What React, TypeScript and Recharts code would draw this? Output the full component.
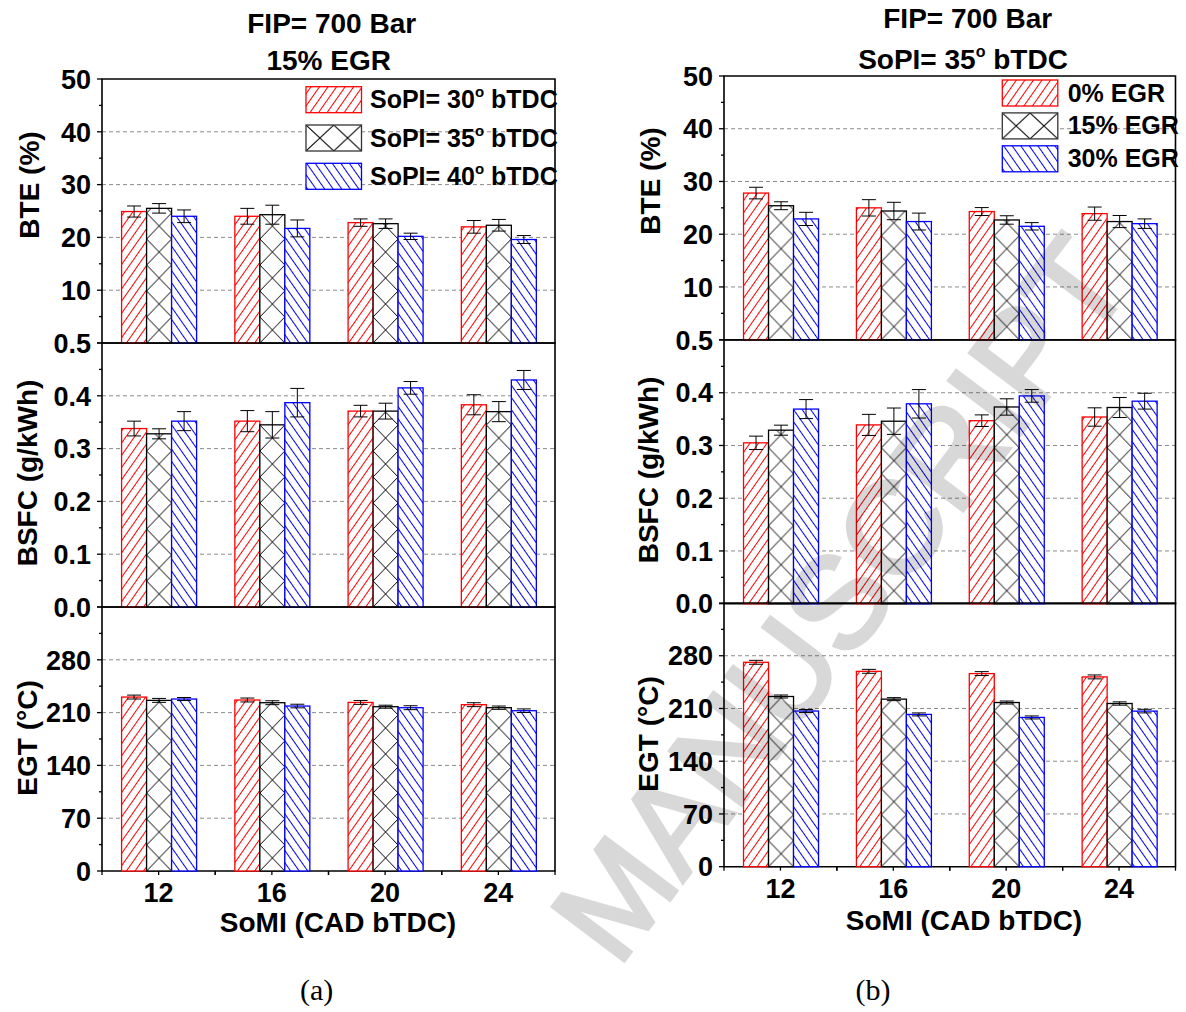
import React from 'react';
import { BarChart, Bar, XAxis, YAxis, CartesianGrid, ErrorBar, ReferenceArea } from 'recharts';

// ---------------- DATA ----------------
const categories = ['12', '16', '20', '24'];

// Panel (a): FIP = 700 bar, 15% EGR — series: SoPI = 30 / 35 / 40 deg bTDC
const legendA = ['SoPI= 30', 'SoPI= 35', 'SoPI= 40'];
const bteA30 = [24.9, 24.0, 22.8, 22.0];
const bteA30Err = [1.05, 1.5, 0.7, 1.2];
const bteA35 = [25.5, 24.3, 22.6, 22.3];
const bteA35Err = [0.9, 1.8, 0.9, 1.1];
const bteA40 = [24.0, 21.7, 20.2, 19.6];
const bteA40Err = [1.2, 1.6, 0.6, 0.75];

const bsfcA30 = [0.338, 0.352, 0.371, 0.383];
const bsfcA30Err = [0.014, 0.02, 0.011, 0.019];
const bsfcA35 = [0.328, 0.345, 0.371, 0.37];
const bsfcA35Err = [0.0095, 0.025, 0.015, 0.019];
const bsfcA40 = [0.352, 0.387, 0.415, 0.43];
const bsfcA40Err = [0.018, 0.027, 0.012, 0.018];

const egtA30 = [230.6, 226.7, 223.5, 220.5];
const egtA30Err = [2.6, 2.6, 2.6, 2.6];
const egtA35 = [226.2, 223.1, 217.8, 216.5];
const egtA35Err = [2.6, 2.6, 2.0, 2.2];
const egtA40 = [228.0, 218.7, 216.5, 212.5];
const egtA40Err = [2.0, 2.4, 2.6, 2.4];

// Panel (b): FIP = 700 bar, SoPI = 35 deg bTDC — series: 0 / 15 / 30 % EGR
const legendB = ['0% EGR', '15% EGR', '30% EGR'];
const bteB0 = [27.8, 25.0, 24.3, 23.9];
const bteB0Err = [1.1, 1.55, 0.75, 1.25];
const bteB15 = [25.4, 24.4, 22.7, 22.4];
const bteB15Err = [0.75, 1.65, 0.8, 1.15];
const bteB30 = [22.9, 22.4, 21.5, 22.0];
const bteB30Err = [1.25, 1.6, 0.7, 0.9];

const bsfcB0 = [0.305, 0.339, 0.347, 0.354];
const bsfcB0Err = [0.0127, 0.02, 0.011, 0.0174];
const bsfcB15 = [0.329, 0.346, 0.373, 0.372];
const bsfcB15Err = [0.0095, 0.025, 0.0155, 0.019];
const bsfcB30 = [0.369, 0.379, 0.394, 0.384];
const bsfcB30Err = [0.018, 0.027, 0.012, 0.015];

const egtB0 = [271.3, 259.3, 256.3, 251.9];
const egtB0Err = [2.6, 2.6, 2.6, 2.6];
const egtB15 = [225.9, 222.4, 217.9, 216.6];
const egtB15Err = [2.0, 2.0, 2.0, 2.2];
const egtB30 = [206.6, 202.1, 198.1, 206.5];
const egtB30Err = [2.0, 2.0, 2.0, 2.4];

// Axis ticks
const bteTicks = [0, 5, 10, 15, 20, 25, 30, 35, 40, 45, 50];
const bteMajors = [0, 10, 20, 30, 40, 50];
const bteLabels = ['', '10', '20', '30', '40', '50'];
const bteGrid = [10, 20, 30, 40];

const bsfcTicks = [0, 0.05, 0.1, 0.15, 0.2, 0.25, 0.3, 0.35, 0.4, 0.45, 0.5];
const bsfcMajors = [0, 0.1, 0.2, 0.3, 0.4, 0.5];
const bsfcLabels = ['0.0', '0.1', '0.2', '0.3', '0.4', '0.5'];
const bsfcGrid = [0.1, 0.2, 0.3, 0.4];

const egtTicks = [0, 35, 70, 105, 140, 175, 210, 245, 280, 315, 350];
const egtMajors = [0, 70, 140, 210, 280, 350];
const egtLabels = ['0', '70', '140', '210', '280', ''];
const egtGrid = [70, 140, 210, 280];

// ---------------- STYLE ----------------
const FONT = "'Liberation Sans', Arial, Helvetica, sans-serif";
const SERIF = "'Liberation Serif', 'Times New Roman', serif";
const RED = '#ff0000';
const BLUE = '#0000ff';
const BLACK = '#000000';
const Y_W = 90;
const CROSS = 26;
const PAD = 18;

const rows = (s1: number[], e1: number[], s2: number[], e2: number[], s3: number[], e3: number[]) =>
  categories.map((c, i) => ({ cat: c, s1: s1[i], e1: e1[i], s2: s2[i], e2: e2[i], s3: s3[i], e3: e3[i] }));

function makeYTick(majors: number[], labels: string[]) {
  return (props: any) => {
    const { x, y, payload } = props;
    const v = payload.value;
    const axisX = x + 11;
    const mi = majors.findIndex((m) => Math.abs(m - v) < 1e-6);
    const isMajor = mi >= 0;
    const label = isMajor ? labels[mi] : '';
    return (
      <g>
        <line x1={axisX - (isMajor ? 5 : 3)} x2={axisX} y1={y} y2={y} stroke="#000" strokeWidth={1.3} />
        {label ? (
          <text x={x} y={y} dy="0.36em" textAnchor="end" fontFamily={FONT} fontWeight={700} fontSize={27} fill="#000">
            {label}
          </text>
        ) : null}
      </g>
    );
  };
}

function makeXTick(halfBand: number) {
  return (props: any) => {
    const { x, y, payload } = props;
    const axisY = y - 8;
    const h = payload && payload.offset ? payload.offset : halfBand;
    return (
      <g>
        <line x1={x} x2={x} y1={axisY} y2={axisY + 4} stroke="#000" strokeWidth={1.3} />
        <line x1={x - h} x2={x - h} y1={axisY} y2={axisY + 4} stroke="#000" strokeWidth={1.3} />
        <line x1={x + h} x2={x + h} y1={axisY} y2={axisY + 4} stroke="#000" strokeWidth={1.3} />
        <text x={x} y={axisY + 31} textAnchor="middle" fontFamily={FONT} fontWeight={700} fontSize={27} fill="#000">
          {payload.value}
        </text>
      </g>
    );
  };
}

function makeShape(kind: 'r' | 'x' | 'b', id: string, color: string) {
  return (props: any) => {
    const { x, y, width, height, index } = props;
    if (width == null || height == null || !(height > 0)) return <g />;
    if (kind === 'x') {
      const pid = `${id}-x${index}`;
      return (
        <g>
          <defs>
            <pattern id={pid} patternUnits="userSpaceOnUse" x={x} y={y + height} width={width} height={CROSS}>
              <rect width={width} height={CROSS} fill="#fff" />
              <path d={`M0 0 L${width} ${CROSS} M0 ${CROSS} L${width} 0`} stroke="#000" strokeWidth={1} fill="none" />
            </pattern>
          </defs>
          <rect x={x} y={y} width={width} height={height} fill={`url(#${pid})`} stroke={color} strokeWidth={1.3} />
        </g>
      );
    }
    return <rect x={x} y={y} width={width} height={height} fill={`url(#${id}-${kind})`} stroke={color} strokeWidth={1.3} />;
  };
}

function HatchDefs({ id }: { id: string }) {
  return (
    <defs>
      <pattern id={`${id}-r`} patternUnits="userSpaceOnUse" width={7} height={7} patternTransform="rotate(35)">
        <rect width={7} height={7} fill="#fff" />
        <line x1={3.5} y1={0} x2={3.5} y2={7} stroke={RED} strokeWidth={1} />
      </pattern>
      <pattern id={`${id}-b`} patternUnits="userSpaceOnUse" width={7} height={7} patternTransform="rotate(-35)">
        <rect width={7} height={7} fill="#fff" />
        <line x1={3.5} y1={0} x2={3.5} y2={7} stroke={BLUE} strokeWidth={1} />
      </pattern>
    </defs>
  );
}

type SubProps = {
  id: string;
  data: any[];
  left: number;
  top: number;
  plotW: number;
  plotH: number;
  domain: [number, number];
  ticks: number[];
  majors: number[];
  labels: string[];
  grid: number[];
  showX: boolean;
};

function SubPlot(p: SubProps) {
  const margin = { top: PAD, right: 10, bottom: p.showX ? 0 : PAD, left: 0 };
  const xH = 60;
  const width = Y_W + p.plotW + margin.right;
  const height = margin.top + p.plotH + margin.bottom + (p.showX ? xH : 0);
  return (
    <div style={{ position: 'absolute', left: p.left - Y_W, top: p.top - margin.top }}>
      <BarChart width={width} height={height} data={p.data} margin={margin} barCategoryGap="17.3%" barGap={0}>
        <HatchDefs id={p.id} />
        <CartesianGrid horizontal vertical={false} horizontalValues={p.grid} stroke="#8c8c8c" strokeDasharray="4 3" />
        <XAxis
          dataKey="cat"
          hide={!p.showX}
          height={xH}
          axisLine={false}
          tickLine={false}
          tickSize={4}
          tickMargin={4}
          interval={0}
          tick={makeXTick(p.plotW / 8)}
        />
        <YAxis
          width={Y_W}
          type="number"
          domain={p.domain}
          ticks={p.ticks}
          interval={0}
          axisLine={false}
          tickLine={false}
          tickSize={5}
          tickMargin={6}
          tick={makeYTick(p.majors, p.labels)}
        />
        <Bar dataKey="s1" shape={makeShape('r', p.id, RED)} isAnimationActive={false}>
          <ErrorBar dataKey="e1" width={7} stroke="#000" strokeWidth={1} direction="y" isAnimationActive={false} />
        </Bar>
        <Bar dataKey="s2" shape={makeShape('x', p.id, BLACK)} isAnimationActive={false}>
          <ErrorBar dataKey="e2" width={7} stroke="#000" strokeWidth={1} direction="y" isAnimationActive={false} />
        </Bar>
        <Bar dataKey="s3" shape={makeShape('b', p.id, BLUE)} isAnimationActive={false}>
          <ErrorBar dataKey="e3" width={7} stroke="#000" strokeWidth={1} direction="y" isAnimationActive={false} />
        </Bar>
        <ReferenceArea y1={p.domain[0]} y2={p.domain[1]} fill="none" stroke="#000" strokeWidth={1.6} ifOverflow="visible" />
      </BarChart>
    </div>
  );
}

// Layout of the two panels
const PA = { left: 101.5, plotW: 453, tops: [79, 343, 607], plotH: 264 };
const PB = { left: 723.5, plotW: 451.5, tops: [76, 339.7, 603.3], plotH: 263.7 };

function Panel({ P, id, bte, bsfc, egt }: any) {
  return (
    <>
      <SubPlot id={`${id}1`} data={bte} left={P.left} top={P.tops[0]} plotW={P.plotW} plotH={P.plotH} domain={[0, 50]} ticks={bteTicks} majors={bteMajors} labels={bteLabels} grid={bteGrid} showX={false} />
      <SubPlot id={`${id}2`} data={bsfc} left={P.left} top={P.tops[1]} plotW={P.plotW} plotH={P.plotH} domain={[0, 0.5]} ticks={bsfcTicks} majors={bsfcMajors} labels={bsfcLabels} grid={bsfcGrid} showX={false} />
      <SubPlot id={`${id}3`} data={egt} left={P.left} top={P.tops[2]} plotW={P.plotW} plotH={P.plotH} domain={[0, 350]} ticks={egtTicks} majors={egtMajors} labels={egtLabels} grid={egtGrid} showX={true} />
    </>
  );
}

function Swatch({ x, y, kind, pid }: { x: number; y: number; kind: string; pid: string }) {
  const w = 55.5;
  const h = 26;
  if (kind === 'x') {
    return (
      <g>
        <defs>
          <pattern id={pid} patternUnits="userSpaceOnUse" x={x} y={y} width={w / 2} height={h}>
            <rect width={w / 2} height={h} fill="#fff" />
            <path d={`M0 0 L${w / 2} ${h} M0 ${h} L${w / 2} 0`} stroke="#000" strokeWidth={1} fill="none" />
          </pattern>
        </defs>
        <rect x={x} y={y} width={w} height={h} fill={`url(#${pid})`} stroke="#333" strokeWidth={1.3} />
      </g>
    );
  }
  return <rect x={x} y={y} width={w} height={h} fill={`url(#ov-${kind})`} stroke={kind === 'r' ? RED : BLUE} strokeWidth={1.3} />;
}

const boldText = { fontFamily: FONT, fontWeight: 700, fill: '#000' } as const;

export default function App() {
  const bteA = rows(bteA30, bteA30Err, bteA35, bteA35Err, bteA40, bteA40Err);
  const bsfcA = rows(bsfcA30, bsfcA30Err, bsfcA35, bsfcA35Err, bsfcA40, bsfcA40Err);
  const egtA = rows(egtA30, egtA30Err, egtA35, egtA35Err, egtA40, egtA40Err);
  const bteB = rows(bteB0, bteB0Err, bteB15, bteB15Err, bteB30, bteB30Err);
  const bsfcB = rows(bsfcB0, bsfcB0Err, bsfcB15, bsfcB15Err, bsfcB30, bsfcB30Err);
  const egtB = rows(egtB0, egtB0Err, egtB15, egtB15Err, egtB30, egtB30Err);
  const kinds = ['r', 'x', 'b'];

  return (
    <div style={{ position: 'absolute', left: 0, top: 0, width: 1186, height: 1012, background: '#fff', overflow: 'hidden' }}>
      <Panel P={PA} id="pa" bte={bteA} bsfc={bsfcA} egt={egtA} />
      <Panel P={PB} id="pb" bte={bteB} bsfc={bsfcB} egt={egtB} />
      <svg width={1186} height={1012} style={{ position: 'absolute', left: 0, top: 0, pointerEvents: 'none' }}>
        <defs>
          <pattern id="ov-r" patternUnits="userSpaceOnUse" width={7} height={7} patternTransform="rotate(35)">
            <rect width={7} height={7} fill="#fff" />
            <line x1={3.5} y1={0} x2={3.5} y2={7} stroke={RED} strokeWidth={1} />
          </pattern>
          <pattern id="ov-b" patternUnits="userSpaceOnUse" width={7} height={7} patternTransform="rotate(-35)">
            <rect width={7} height={7} fill="#fff" />
            <line x1={3.5} y1={0} x2={3.5} y2={7} stroke={BLUE} strokeWidth={1} />
          </pattern>
        </defs>

        {/* Titles */}
        <text x={331.7} y={33} textAnchor="middle" fontSize={28} {...boldText}>FIP= 700 Bar</text>
        <text x={328.7} y={70} textAnchor="middle" fontSize={28} {...boldText}>15% EGR</text>
        <text x={967.7} y={28.3} textAnchor="middle" fontSize={28} {...boldText}>FIP= 700 Bar</text>
        <text x={963} y={69} textAnchor="middle" fontSize={28} {...boldText}>
          <tspan>SoPI= 35</tspan>
          <tspan fontSize={16} dy={-12}>o</tspan>
          <tspan dy={12}>{' bTDC'}</tspan>
        </text>

        {/* Legend (a) */}
        {legendA.map((lab, i) => (
          <g key={`la${i}`}>
            <Swatch x={306} y={86.7 + i * 38.3} kind={kinds[i]} pid={`lgA${i}`} />
            <text x={370} y={108.3 + i * 38.3} fontSize={25} {...boldText}>
              <tspan>{lab}</tspan>
              <tspan fontSize={15} dy={-11}>o</tspan>
              <tspan dy={11}>{' bTDC'}</tspan>
            </text>
          </g>
        ))}
        {/* Legend (b) */}
        {legendB.map((lab, i) => (
          <g key={`lb${i}`}>
            <Swatch x={1002.3} y={80 + i * 32.9} kind={kinds[i]} pid={`lgB${i}`} />
            <text x={1067.7} y={101.7 + i * 32.6} fontSize={25} {...boldText}>{lab}</text>
          </g>
        ))}

        {/* Y axis titles */}
        {[
          ['BTE (%)', 29, 185],
          ['BSFC (g/kWh)', 27, 473],
          ['EGT (°C)', 27, 738],
          ['BTE (%)', 650, 181],
          ['BSFC (g/kWh)', 648, 470],
          ['EGT (°C)', 648, 734],
        ].map(([t, cx, cy], i) => (
          <text
            key={`yl${i}`}
            x={cx as number}
            y={cy as number}
            transform={`rotate(-90 ${cx} ${cy})`}
            textAnchor="middle"
            dominantBaseline="central"
            fontSize={28}
            {...boldText}
          >
            {t as string}
          </text>
        ))}

        {/* X axis titles */}
        <text x={338} y={931.7} textAnchor="middle" fontSize={28} {...boldText}>SoMI (CAD bTDC)</text>
        <text x={964} y={930} textAnchor="middle" fontSize={28} {...boldText}>SoMI (CAD bTDC)</text>

        {/* Panel captions */}
        <text x={316.7} y={1000} textAnchor="middle" fontSize={30} fontFamily={SERIF} fill="#000">(a)</text>
        <text x={873} y={1000} textAnchor="middle" fontSize={30} fontFamily={SERIF} fill="#000">(b)</text>

        {/* Watermark */}
        <g transform="rotate(-53 617.7 969)" fontFamily={FONT} fontSize={130} opacity={0.15}>
          <text x={617.7} y={969} fill="#000" stroke="#000" strokeWidth={4}>MANUSCRIPT</text>
        </g>
      </svg>
    </div>
  );
}
